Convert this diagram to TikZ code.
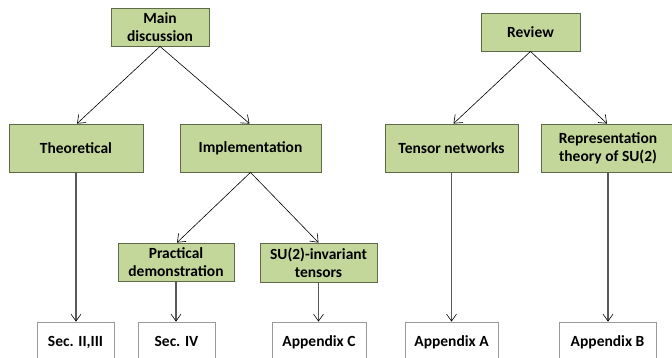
\documentclass[tikz,border=0pt]{standalone}
\usepackage{fontspec}
\setmainfont{Carlito}
\usetikzlibrary{arrows.meta,calc}
\definecolor{boxgreen}{HTML}{C4D79B}
\definecolor{boxedge}{HTML}{5F6A4A}
\definecolor{outedge}{HTML}{9A9A9A}
\definecolor{vline}{HTML}{595959}
\begin{document}
\begin{tikzpicture}[x=1pt,y=-1pt,
  gbox/.style={draw=boxedge,fill=boxgreen,line width=0.8pt,rectangle,inner sep=0pt,align=center,font=\fontsize{15.5}{18}\selectfont\bfseries},
  wbox/.style={draw=outedge,fill=white,line width=0.8pt,rectangle,inner sep=0pt,align=center,font=\fontsize{15.5}{18}\selectfont\bfseries},
  arr/.style={-{Straight Barb[length=7pt,width=11pt,line width=0.6pt]},line width=0.6pt,black},
  varr/.style={-{Straight Barb[length=7pt,width=10pt,line width=0.6pt,color=black]},line width=1.3pt,vline}]
\clip (0,0) rectangle (672,358);
\useasboundingbox (0,0) rectangle (672,358);
% top level
\node[gbox,minimum width=98pt,minimum height=38pt] (main) at (160,27) {Main\\discussion};
\node[gbox,minimum width=99pt,minimum height=38pt] (review) at (530.5,32) {Review};
% second level
\node[gbox,minimum width=134pt,minimum height=48pt] (theo) at (76,148) {Theoretical};
\node[gbox,minimum width=141pt,minimum height=48pt] (impl) at (250.5,148) {Implementation};
\node[gbox,minimum width=133pt,minimum height=48pt] (tn) at (451.5,148) {Tensor networks};
\node[gbox,minimum width=134pt,minimum height=48pt] (rep) at (608,148) {Representation\\theory of SU(2)};
% third level
\node[gbox,minimum width=116pt,minimum height=38pt] (prac) at (176,262) {Practical\\demonstration};
\node[gbox,minimum width=117pt,minimum height=39pt] (su2) at (318.5,262.5) {SU(2)-invariant\\tensors};
% outputs
\node[wbox,minimum width=77pt,minimum height=50pt,text depth=12pt] (s23) at (75.5,347) {Sec. II,III};
\node[wbox,minimum width=77pt,minimum height=50pt,text depth=12pt] (s4) at (176.5,347) {Sec. IV};
\node[wbox,minimum width=94pt,minimum height=50pt,text depth=12pt] (apc) at (319,347) {Appendix C};
\node[wbox,minimum width=93pt,minimum height=50pt,text depth=12pt] (apa) at (451.5,347) {Appendix A};
\node[wbox,minimum width=97pt,minimum height=50pt,text depth=12pt] (apb) at (607.5,347) {Appendix B};
% connectors
\draw[arr] (main.south) -- ($(theo.north)+(1,0)$);
\draw[arr] (main.south) -- ($(impl.north)+(-1,0)$);
\draw[arr] (impl.south) -- ($(prac.north)+(1,0)$);
\draw[arr] (impl.south) -- (su2.north);
\draw[arr] (review.south) -- ($(tn.north)+(2,0)$);
\draw[arr] (review.south) -- ($(rep.north)+(-1,0)$);
\draw[varr] (theo.south) -- (s23.north -| theo.south);
\draw[varr] (prac.south) -- (s4.north -| prac.south);
\draw[varr] (su2.south) -- (apc.north -| su2.south);
\draw[varr] (tn.south) -- (apa.north -| tn.south);
\draw[varr] (rep.south) -- (apb.north -| rep.south);
\end{tikzpicture}
\end{document}
